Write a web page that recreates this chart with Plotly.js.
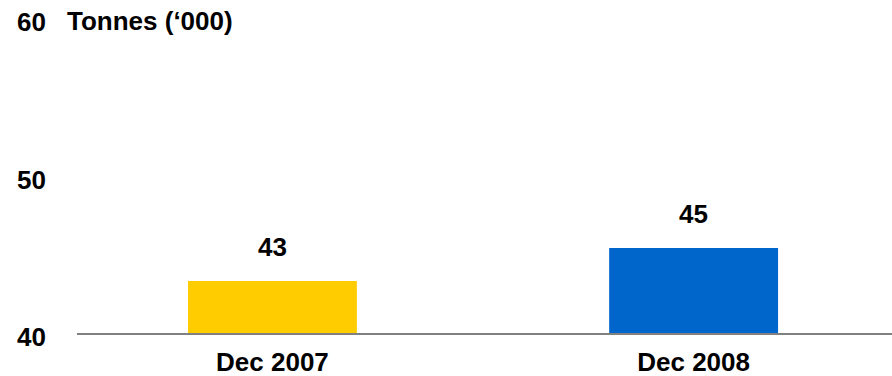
<!DOCTYPE html>
<html>
<head>
<meta charset="utf-8">
<script src="https://cdn.plot.ly/plotly-3.0.1.min.js"></script>
<style>html,body{margin:0;padding:0;background:#fff}#chart{width:892px;height:376px}</style>
</head>
<body>
<div id="chart"></div>
<script>
const categories = ['Dec 2007', 'Dec 2008'];
const values = [43.3, 45.4];
const valueLabels = ['43', '45'];
const barColors = ['#FFCC00', '#0066CC'];
const yTickVals = [40, 50, 60];
const yTickText = ['40', '50', '60'];
const unitLabel = 'Tonnes (‘000)';

const font = {family: 'Liberation Sans, Arial, sans-serif', size: 26, color: '#000', weight: 'bold'};

const trace = {
  type: 'bar',
  x: categories,
  y: values,
  marker: {color: barColors},
  width: 0.401,
  hoverinfo: 'none'
};

const annotations = categories.map((c, i) => ({
  x: c, y: values[i], xref: 'x', yref: 'y',
  text: valueLabels[i], showarrow: false,
  yanchor: 'middle', yshift: 34, font: font
}));
annotations.push({
  x: -0.0148, y: 0.99, xref: 'paper', yref: 'paper',
  text: unitLabel, showarrow: false, xanchor: 'left', yanchor: 'middle', font: font
});

const layout = {
  width: 892, height: 376,
  margin: {l: 77, r: 0, t: 18, b: 43},
  paper_bgcolor: '#fff', plot_bgcolor: '#fff',
  showlegend: false,
  font: font,
  xaxis: {
    type: 'category',
    range: [-0.464, 1.471],
    showline: true, linecolor: '#808080', linewidth: 1.5,
    showgrid: false, zeroline: false, ticks: '',
    tickfont: font, ticklabelstandoff: 5
  },
  yaxis: {
    range: [40, 60],
    tickvals: yTickVals, ticktext: yTickText,
    showline: false, showgrid: false, zeroline: false, ticks: '',
    tickfont: font, ticklabelstandoff: 30, ticklabelshift: 4
  },
  annotations: annotations
};

Plotly.newPlot('chart', [trace], layout, {displayModeBar: false, staticPlot: true});
</script>
</body>
</html>
